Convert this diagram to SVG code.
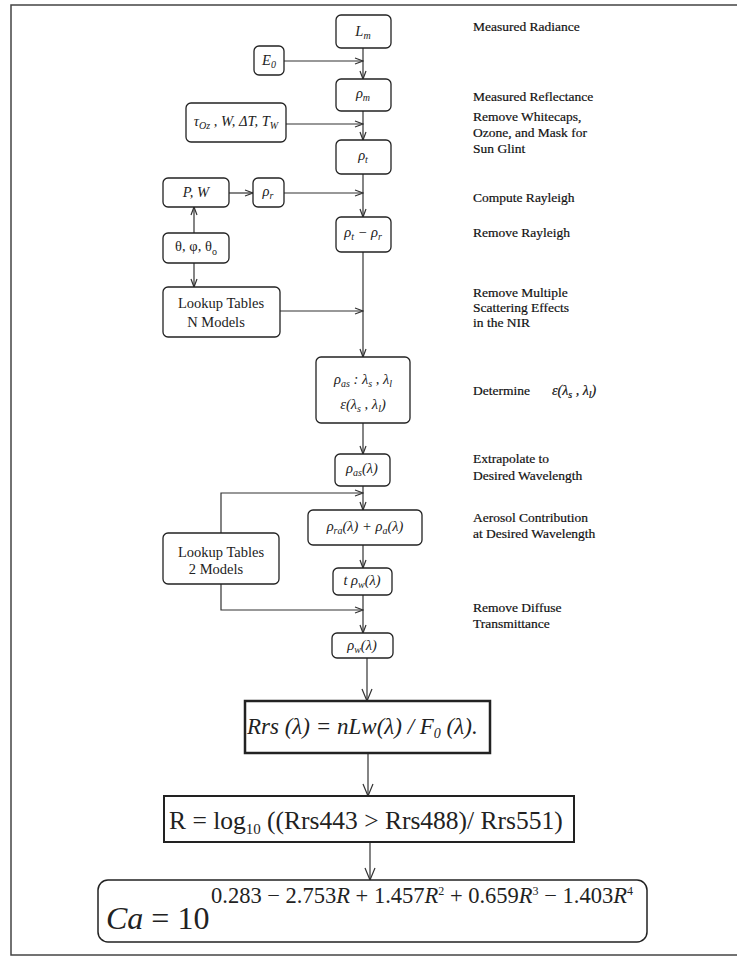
<svg xmlns="http://www.w3.org/2000/svg" width="737" height="960" viewBox="0 0 737 960">
<style>
.bx{fill:#fff;stroke:#222;stroke-width:1.3}
.c{fill:none;stroke:#333;stroke-width:1.2}
.t{font-family:"Liberation Serif","DejaVu Serif",serif;font-size:13.5px;fill:#111;stroke:#111;stroke-width:0.2}
.m{font-family:"Liberation Serif","DejaVu Serif",serif;font-style:italic;font-size:14.5px;fill:#222;text-anchor:middle}
.n{font-family:"Liberation Serif","DejaVu Serif",serif;font-size:14.5px;fill:#222;text-anchor:middle}
.s{font-size:10px}
</style>
<defs>
<marker id="a" markerWidth="10" markerHeight="8" refX="9" refY="4" orient="auto" markerUnits="userSpaceOnUse"><path d="M1,1 L9,4 L1,7" fill="none" stroke="#333" stroke-width="1.2"/></marker>
<marker id="b" markerWidth="14" markerHeight="12" refX="13" refY="6" orient="auto" markerUnits="userSpaceOnUse"><path d="M1,1 L13,6 L1,11" fill="none" stroke="#333" stroke-width="1.2"/></marker>
</defs>
<rect x="0" y="0" width="737" height="960" fill="#fff"/>
<rect x="11" y="5" width="730" height="950" fill="none" stroke="#444" stroke-width="1.5"/>

<g id="connectors">
<path class="c" d="M363,48 V79" marker-end="url(#a)"/>
<path class="c" d="M284,61 H363" marker-end="url(#a)"/>
<path class="c" d="M363,111 V140" marker-end="url(#a)"/>
<path class="c" d="M286,124 H363" marker-end="url(#a)"/>
<path class="c" d="M363,174 V217" marker-end="url(#a)"/>
<path class="c" d="M229,193 H253" marker-end="url(#a)"/>
<path class="c" d="M284,193 H363" marker-end="url(#a)"/>
<path class="c" d="M194,233 V207" marker-end="url(#a)"/>
<path class="c" d="M194,263 V287" marker-end="url(#a)"/>
<path class="c" d="M363,252 V357" marker-end="url(#a)"/>
<path class="c" d="M280,311 H363" marker-end="url(#a)"/>
<path class="c" d="M363,423 V454" marker-end="url(#a)"/>
<path class="c" d="M363,486 V510" marker-end="url(#a)"/>
<path class="c" d="M221,533 V493 H363" marker-end="url(#a)"/>
<path class="c" d="M363,545 V568" marker-end="url(#a)"/>
<path class="c" d="M363,595 V633" marker-end="url(#a)"/>
<path class="c" d="M221,584 V610 H363" marker-end="url(#a)"/>
<path class="c" d="M367,658 V701" marker-end="url(#b)"/>
<path class="c" d="M368,753 V796" marker-end="url(#b)"/>
<path class="c" d="M370,842 V880" marker-end="url(#b)"/>
</g>

<g id="n-lm"><rect class="bx" x="336" y="15" width="55" height="33" rx="5"/><text class="m" x="363" y="36">L<tspan class="s" dy="3">m</tspan></text></g>
<g id="n-e0"><rect class="bx" x="254" y="46" width="30" height="29" rx="5"/><text class="m" x="269" y="65">E<tspan class="s" dy="3">0</tspan></text></g>
<g id="n-rhom"><rect class="bx" x="336" y="79" width="55" height="32" rx="5"/><text class="m" x="363" y="98">ρ<tspan class="s" dy="3">m</tspan></text></g>
<g id="n-tau"><rect class="bx" x="186" y="103" width="100" height="39" rx="5"/><text class="m" x="236" y="126">τ<tspan class="s" dy="3">Oz</tspan><tspan dy="-3"> , W, ΔT, T</tspan><tspan class="s" dy="3">W</tspan></text></g>
<g id="n-rhot"><rect class="bx" x="336" y="140" width="55" height="34" rx="5"/><text class="m" x="363" y="160">ρ<tspan class="s" dy="3">t</tspan></text></g>
<g id="n-pw"><rect class="bx" x="163" y="178" width="66" height="29" rx="5"/><text class="m" x="196" y="197">P, W</text></g>
<g id="n-rhor"><rect class="bx" x="253" y="178" width="31" height="29" rx="5"/><text class="m" x="268" y="196">ρ<tspan class="s" dy="3">r</tspan></text></g>
<g id="n-diff"><rect class="bx" x="336" y="217" width="55" height="35" rx="5"/><text class="m" x="363" y="237">ρ<tspan class="s" dy="3">t</tspan><tspan dy="-3"> − ρ</tspan><tspan class="s" dy="3">r</tspan></text></g>
<g id="n-angles"><rect class="bx" x="163" y="233" width="66" height="30" rx="5"/><text class="n" x="196" y="251">θ, φ, θ<tspan class="s" dy="4">o</tspan></text></g>
<g id="n-lutn"><rect class="bx" x="163" y="287" width="117" height="50" rx="5"/><text class="n" x="221" y="308">Lookup  Tables</text><text class="n" x="216" y="327">N Models</text></g>
<g id="n-rhoas"><rect class="bx" x="316" y="357" width="94" height="66" rx="5"/><text class="m" x="363" y="384">ρ<tspan class="s" dy="3">as</tspan><tspan dy="-3"> : λ</tspan><tspan class="s" dy="3">s</tspan><tspan dy="-3"> , λ</tspan><tspan class="s" dy="3">l</tspan></text><text class="m" x="363" y="409">ε(λ<tspan class="s" dy="3">s</tspan><tspan dy="-3"> , λ</tspan><tspan class="s" dy="3">l</tspan><tspan dy="-3">)</tspan></text></g>
<g id="n-rhoasl"><rect class="bx" x="335" y="454" width="55" height="32" rx="5"/><text class="m" x="362" y="473">ρ<tspan class="s" dy="3">as</tspan><tspan dy="-3">(λ)</tspan></text></g>
<g id="n-lut2"><rect class="bx" x="163" y="533" width="116" height="51" rx="5"/><text class="n" x="221" y="557">Lookup Tables</text><text class="n" x="216" y="574">2 Models</text></g>
<g id="n-rhora"><rect class="bx" x="308" y="510" width="114" height="35" rx="5"/><text class="m" x="365" y="531">ρ<tspan class="s" dy="3">ra</tspan><tspan dy="-3">(λ) + ρ</tspan><tspan class="s" dy="3">a</tspan><tspan dy="-3">(λ)</tspan></text></g>
<g id="n-trhow"><rect class="bx" x="333" y="568" width="59" height="27" rx="5"/><text class="m" x="362" y="585">t ρ<tspan class="s" dy="3">w</tspan><tspan dy="-3">(λ)</tspan></text></g>
<g id="n-rhow"><rect class="bx" x="332" y="633" width="61" height="25" rx="5"/><text class="m" x="362" y="650">ρ<tspan class="s" dy="3">w</tspan><tspan dy="-3">(λ)</tspan></text></g>

<g id="n-rrs"><rect x="245" y="701" width="245" height="52" fill="#fff" stroke="#222" stroke-width="2.5"/><text x="247" y="734" font-family="Liberation Serif, serif" font-style="italic" font-size="23" fill="#222">Rrs (λ) = nLw(λ) / F<tspan font-size="14" dy="4">0</tspan><tspan dy="-4"> (λ).</tspan></text></g>
<g id="n-r"><rect x="164" y="796" width="410" height="46" fill="#fff" stroke="#222" stroke-width="2"/><text x="169" y="829" font-family="Liberation Serif, serif" font-size="25.5" fill="#222">R = log<tspan font-size="15" dy="5">10</tspan><tspan dy="-5"> ((Rrs443 &gt; Rrs488)/ Rrs551)</tspan></text></g>
<g id="n-ca"><rect x="98" y="880" width="549" height="62" rx="10" fill="#fff" stroke="#222" stroke-width="1.5"/><text x="106" y="929" font-family="Liberation Serif, serif" font-size="32" fill="#222"><tspan font-style="italic">Ca</tspan> = 10</text><text x="211" y="903" font-family="Liberation Serif, serif" font-size="22.5" fill="#222">0.283 − 2.753<tspan font-style="italic">R</tspan> + 1.457<tspan font-style="italic">R</tspan><tspan font-size="12" dy="-8">2</tspan><tspan dy="8"> + 0.659</tspan><tspan font-style="italic">R</tspan><tspan font-size="12" dy="-8">3</tspan><tspan dy="8"> − 1.403</tspan><tspan font-style="italic">R</tspan><tspan font-size="12" dy="-8">4</tspan></text></g>

<g id="labels" class="t">
<text x="473" y="31">Measured Radiance</text>
<text x="473" y="101">Measured Reflectance</text>
<text x="473" y="121">Remove Whitecaps,</text>
<text x="473" y="137">Ozone, and Mask for</text>
<text x="473" y="153">Sun Glint</text>
<text x="473" y="202">Compute Rayleigh</text>
<text x="473" y="237">Remove Rayleigh</text>
<text x="473" y="297">Remove Multiple</text>
<text x="473" y="312">Scattering Effects</text>
<text x="473" y="327">in the NIR</text>
<text x="473" y="395">Determine</text>
<text x="552" y="395" font-style="italic" font-size="14">ε(λ<tspan font-size="10" dy="3">s</tspan><tspan dy="-3"> , λ</tspan><tspan font-size="10" dy="3">l</tspan><tspan dy="-3">)</tspan></text>
<text x="473" y="463">Extrapolate to</text>
<text x="473" y="480">Desired Wavelength</text>
<text x="473" y="522">Aerosol Contribution</text>
<text x="473" y="538">at Desired Wavelength</text>
<text x="473" y="612">Remove Diffuse</text>
<text x="473" y="628">Transmittance</text>
</g>
</svg>
